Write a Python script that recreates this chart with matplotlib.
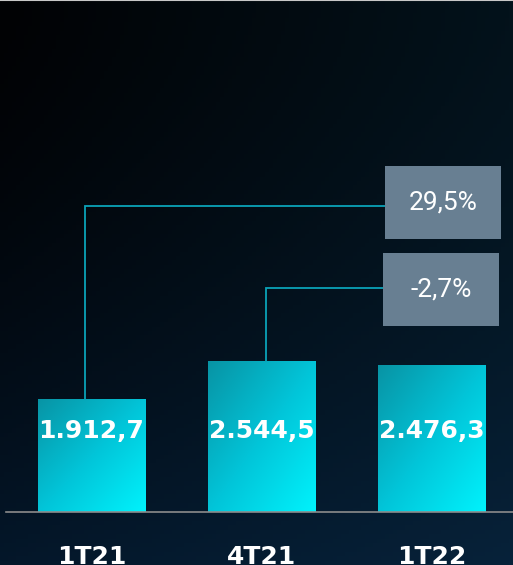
import numpy as np
import matplotlib.pyplot as plt
from matplotlib.colors import LinearSegmentedColormap, to_rgb
from matplotlib.patches import Rectangle

categories = ["1T21", "4T21", "1T22"]
values = [1912.7, 2544.5, 2476.3]
value_labels = ["1.912,7", "2.544,5", "2.476,3"]
change_labels = ["29,5%", "-2,7%"]

W, H = 513, 565
fig = plt.figure(figsize=(W / 100, H / 100), dpi=100)
ax = fig.add_axes([0, 0, 1, 1])
xmin, xmax = -0.538, 2.48
ymin, ymax = -894, 8634
ax.set_xlim(xmin, xmax)
ax.set_ylim(ymin, ymax)
ax.axis("off")

# background: dark gradient, a bit bluer to the right and towards the bottom
tl, tr = np.array(to_rgb("#010204")), np.array(to_rgb("#03121b"))
bl, br = np.array(to_rgb("#04172a")), np.array(to_rgb("#07223a"))
u = np.linspace(0, 1, 128)[None, :, None]
t = np.linspace(0, 1, 128)[:, None, None] ** 1.6
top = tl * (1 - u) + tr * u
bot = bl * (1 - u) + br * u
bg = top * (1 - t) + bot * t
ax.imshow(bg, extent=[xmin, xmax, ymin, ymax], origin="upper",
          aspect="auto", zorder=0)
ax.axhline(ymax, color="#c8c8c8", lw=1.5, zorder=1)

# bars with diagonal gradient (dark teal top-left -> bright cyan bottom-right)
bar_cmap = LinearSegmentedColormap.from_list("bar", ["#0894a5", "#02c4d8", "#00f2fc"])
width = 0.63
gx, gy = np.meshgrid(np.linspace(0, 1, 64), np.linspace(0, 1, 64))
diag = (gx + gy) / 2
for i, v in enumerate(values):
    x0 = i - width / 2
    rect = Rectangle((x0, 0), width, v, facecolor="none", edgecolor="none")
    ax.add_patch(rect)
    im = ax.imshow(diag, cmap=bar_cmap, extent=[x0, x0 + width, 0, v],
                   origin="upper", aspect="auto", zorder=2)
    im.set_clip_path(rect)
    ax.text(i, 1370, value_labels[i], ha="center", va="center",
            color="white", fontsize=18, fontweight="bold",
            family="DejaVu Sans", zorder=4)
    ax.text(i, -560, categories[i], ha="center", va="top",
            color="white", fontsize=18, fontweight="bold",
            family="DejaVu Sans", zorder=4)

# baseline
ax.plot([xmin + 0.035, xmax], [0, 0], color="#8c8c8c", lw=1.2, zorder=3)

# connectors and change boxes
line_c = "#0aa3b8"
conn = [(-0.038, 5160, 1.727, 2.409, 4604, 5835),
        (1.024, 3777, 1.715, 2.397, 3137, 4368)]
tops = [values[0], values[1]]
for (cx, hy, bx0, bx1, by0, by1), top_v, lab in zip(conn, tops, change_labels):
    ax.plot([cx, cx, bx0], [top_v, hy, hy], color=line_c, lw=1.3, zorder=3,
            solid_joinstyle="miter")
    ax.add_patch(Rectangle((bx0, by0), bx1 - bx0, by1 - by0,
                           facecolor="#687f92", edgecolor="none", zorder=3))
    ax.text((bx0 + bx1) / 2, (by0 + by1) / 2, lab, ha="center", va="center",
            color="white", fontsize=19, family="Roboto", zorder=4)

fig.savefig("out.png", dpi=100)
